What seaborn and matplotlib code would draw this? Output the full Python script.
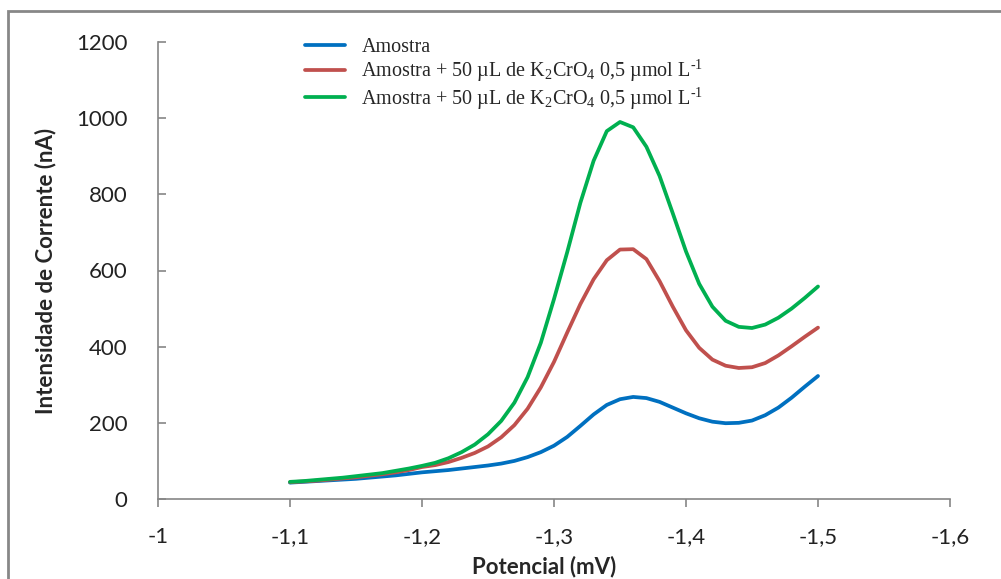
import matplotlib
matplotlib.use("Agg")
import matplotlib.pyplot as plt
import matplotlib.patches as mpatches
from matplotlib.ticker import FuncFormatter
import pandas as pd
import seaborn as sns

# Potential (mV) and measured currents (nA)
potencial = [round(-1.10 - 0.01 * i, 2) for i in range(41)]

amostra = [43, 45, 47, 49, 51, 53, 56, 59, 62, 66,
           70, 73, 76, 80, 84, 88, 93, 100, 110, 123,
           140, 163, 192, 222, 247, 262, 268, 265, 255, 240,
           225, 212, 203, 199, 200, 206, 220, 240, 266, 295,
           323]

adicao_1 = [44, 46, 48, 51, 54, 57, 61, 65, 70, 76,
            84, 89, 97, 108, 121, 138, 162, 194, 237, 293,
            360, 437, 512, 577, 627, 655, 656, 630, 572, 505,
            443, 397, 366, 350, 344, 346, 357, 377, 401, 426,
            450]

adicao_2 = [45, 47, 50, 53, 56, 60, 64, 68, 74, 80,
            87, 95, 107, 123, 143, 170, 205, 253, 320, 410,
            525, 648, 778, 888, 966, 990, 976, 925, 848, 750,
            650, 565, 505, 468, 452, 449, 458, 476, 500, 528,
            558]

labels = [
    "Amostra",
    r"Amostra + 50 µL de K$_2$CrO$_4$ 0,5 µmol L$^{\text{-}1}$",
    r"Amostra + 50 µL de K$_2$CrO$_4$ 0,5 µmol L$^{\text{-}1}$",
]
colors = ["#0070C0", "#C0504D", "#00B050"]

xticks = [-1.0, -1.1, -1.2, -1.3, -1.4, -1.5, -1.6]
yticks = [0, 200, 400, 600, 800, 1000, 1200]

sns.set_theme(style="white")
plt.rcParams["font.family"] = ["Lato", "DejaVu Sans"]
plt.rcParams["mathtext.fontset"] = "custom"
plt.rcParams["mathtext.rm"] = "Liberation Serif"
plt.rcParams["mathtext.it"] = "Liberation Serif:italic"
plt.rcParams["lines.solid_joinstyle"] = "round"
plt.rcParams["lines.solid_capstyle"] = "round"

n = len(potencial)
df = pd.DataFrame({
    "Potencial": potencial * 3,
    "Corrente": amostra + adicao_1 + adicao_2,
    "Serie": ["s1"] * n + ["s2"] * n + ["s3"] * n,
})

fig = plt.figure(figsize=(10.01, 5.79), dpi=100)
ax = fig.add_axes([158 / 1001, 1 - 499 / 579, (950 - 158) / 1001, (499 - 42) / 579])

sns.lineplot(data=df, x="Potencial", y="Corrente", hue="Serie",
             palette=colors, linewidth=2.7, sort=False, estimator=None,
             ax=ax, legend=True)
for line in ax.get_lines():
    line.set_solid_joinstyle("round")
    line.set_solid_capstyle("round")

ax.set_xlim(-1.0, -1.6)
ax.set_ylim(0, 1200)
ax.set_xticks(xticks)
ax.set_yticks(yticks)
ax.xaxis.set_major_formatter(FuncFormatter(lambda v, p: f"{v:g}".replace(".", ",")))
ax.yaxis.set_major_formatter(FuncFormatter(lambda v, p: f"{v:g}"))

grey = "#868686"
for side in ["top", "right"]:
    ax.spines[side].set_visible(False)
for side in ["left", "bottom"]:
    ax.spines[side].set_color(grey)
    ax.spines[side].set_linewidth(1.2)
ax.tick_params(axis="x", direction="out", length=6, width=1.2, color=grey,
               labelsize=16, pad=14, labelcolor="#222222")
ax.tick_params(axis="y", direction="in", length=6, width=1.2, color=grey,
               labelsize=16, pad=22, labelcolor="#222222")
ax.tick_params(axis="both", which="both", bottom=True, left=True)

ax.set_xlabel("Potencial (mV)", fontsize=16, fontweight="bold", labelpad=-2)
ax.set_ylabel("Intensidade de Corrente (nA)", fontsize=16, fontweight="bold", labelpad=14)
ax.xaxis.set_label_coords(0.487, -0.125)

handles, _ = ax.get_legend_handles_labels()
ax.legend(handles, labels, loc="upper left", bbox_to_anchor=(295 / 1001, 1 - 28 / 579),
          bbox_transform=fig.transFigure, frameon=False,
          prop={"family": "Liberation Serif", "size": 14.5},
          handlelength=2.0, handletextpad=0.8, labelspacing=0.05, borderpad=0)

# outer chart border
fig.add_artist(mpatches.Rectangle((7.5 / 1001, -0.2), 1.5, 1.2 - 10.5 / 579,
                                  transform=fig.transFigure, fill=False,
                                  edgecolor="#878787", linewidth=2.0))

fig.savefig("out.png", dpi=100)
